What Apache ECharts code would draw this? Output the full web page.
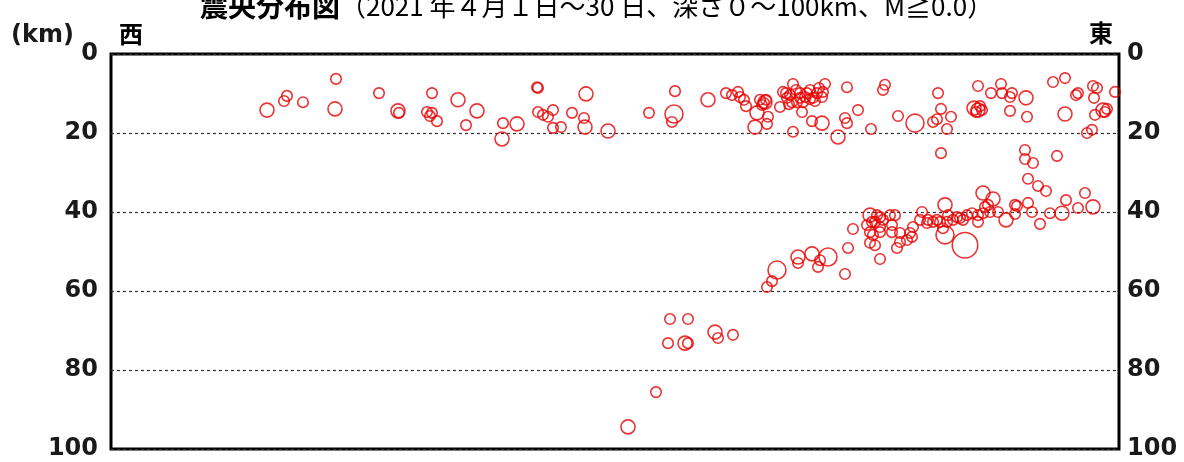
<!DOCTYPE html>
<html><head><meta charset="utf-8">
<script src="https://cdn.jsdelivr.net/npm/echarts@6/dist/echarts.min.js"></script>
<style>html,body{margin:0;padding:0;background:#fff}#c{width:1184px;height:462px}</style>
</head><body><div id="c"></div>
<script>
const titleMain = '震央分布図';
const titleSub = '（2021 年４月１日～30 日、深さ０～100km、M≧0.0）';
const unitLabel = '(km)';
const westLabel = '西';
const eastLabel = '東';
const depthTicks = [0, 20, 40, 60, 80, 100];

// horizontal position along the section (west -> east)
const distance = [
  156,176,173,192,225,224,268,287,288,321,316,321,326,319,347,366,355,391,392,406,
  426,427,427,432,442,437,442,450,461,475,473,474,497,538,564,563,561,597,
  615,621,627,629,633,635,649,653,655,651,654,646,657,656,644,669,
  672,676,679,681,682,686,689,692,696,699,702,706,711,712,714,675,685,694,704,708,678,689,699,691,701,711,682,727,
  736,747,734,736,760,774,772,787,804,827,830,822,826,836,840,830,867,863,867,869,865,871,880,890,891,899,901,915,899,916,
  914,914,922,942,954,967,965,954,946,982,986,983,1004,992,996,994,984,976,981,
  917,927,935,955,974,967,982,951,939,929,
  656,661,666,687,687,701,709,707,717,734,737,742,
  756,759,761,764,766,769,769,772,779,784,781,
  759,769,762,759,764,769,781,789,786,789,796,801,799,802,809,811,816,817,822,826,829,832,834,834,836,837,842,846,849,852,854,856,861,867,867,872,872,874,877,879,882,887,895,904,906,904,917,921,
  559,577,557,574,577,604,607,622,545,517
];
// depth (km)
const depth = [
  14.2,10.6,11.9,12.2,6.3,13.9,9.9,14.4,14.9,9.9,14.7,14.9,17.0,15.7,11.6,14.4,18.0,21.5,17.5,17.7,
  8.4,8.6,14.7,15.4,14.2,15.9,18.7,18.5,14.9,10.1,16.2,18.5,19.5,14.9,9.4,15.2,17.2,11.6,
  9.9,10.4,9.6,10.9,11.6,13.2,11.6,12.4,11.6,12.9,12.2,14.9,15.9,17.7,18.5,13.4,
  9.6,11.1,10.4,12.2,7.6,12.2,9.9,12.2,9.9,9.1,11.1,9.9,10.9,9.6,7.6,9.9,9.1,10.9,11.9,8.6,12.7,11.1,11.4,14.7,17.0,17.5,19.7,21.0,
  8.4,14.2,16.2,17.5,19.0,7.8,9.1,15.7,17.5,9.9,13.9,17.2,16.5,19.0,15.9,25.1,8.1,13.7,14.2,13.2,14.7,14.2,9.9,7.6,9.9,10.9,9.9,11.1,14.4,15.9,
  24.3,26.6,27.6,7.1,6.1,9.9,10.4,15.2,25.8,8.1,8.6,11.1,9.6,14.2,13.9,14.7,15.4,20.0,19.2,
  31.6,33.4,34.7,37.0,35.2,39.0,38.7,40.3,40.3,43.0,
  59.0,57.5,54.7,51.4,52.9,50.6,52.2,53.9,51.4,55.7,49.1,44.3,
  43.3,40.8,42.5,42.5,40.8,41.3,43.8,42.0,40.8,40.8,43.3,
  45.1,45.1,45.8,47.8,48.4,51.9,45.1,45.3,49.1,47.6,47.1,46.3,45.3,43.8,42.0,40.0,42.8,42.0,42.5,42.0,42.5,44.1,38.2,45.8,42.5,40.8,42.0,41.3,41.5,42.0,48.4,40.8,40.3,40.8,42.5,40.3,35.2,38.7,38.2,40.0,36.7,40.0,42.0,38.2,38.5,40.5,37.7,40.0,
  67.1,67.1,73.2,73.2,73.2,70.4,71.9,71.1,85.6,94.4
];
// magnitude
const magnitude = [
  1.2,0.5,0.5,0.5,0.5,1.2,0.5,1.2,0.5,0.5,0.5,0.5,0.5,0.5,1.2,1.2,0.5,1.2,0.5,1.2,
  0.5,0.5,0.5,0.5,0.5,0.5,0.5,0.5,0.5,1.2,0.5,1.2,1.2,0.5,0.5,2.0,0.5,1.2,
  0.5,0.5,0.5,0.5,0.5,0.5,0.5,0.5,0.5,0.5,1.2,1.2,0.5,0.5,1.2,0.5,
  0.5,0.5,0.5,0.5,0.5,0.5,0.5,0.5,0.5,0.5,0.5,0.5,0.5,0.5,0.5,0.5,0.5,0.5,0.5,0.5,0.5,0.5,0.5,0.5,0.5,1.2,0.5,1.2,
  0.5,0.5,0.5,0.5,0.5,0.5,0.5,0.5,2.0,0.5,0.5,0.5,0.5,0.5,0.5,0.5,0.5,1.2,1.2,0.5,0.5,0.5,0.5,0.5,0.5,0.5,0.5,1.2,0.5,0.5,
  0.5,0.5,0.5,0.5,0.5,0.5,0.5,1.2,0.5,0.5,0.5,0.5,0.5,1.2,0.5,0.5,0.5,0.5,0.5,
  0.5,0.5,0.5,0.5,0.5,0.5,1.2,1.2,0.5,0.5,
  0.5,0.5,2.0,1.2,0.5,1.2,0.5,0.5,2.0,0.5,0.5,0.5,
  0.5,1.2,0.5,0.5,0.5,0.5,0.5,0.5,0.5,0.5,0.5,
  0.5,0.5,0.5,0.5,0.5,0.5,0.5,0.5,0.5,0.5,0.5,0.5,0.5,0.5,0.5,0.5,0.5,0.5,0.5,0.5,0.5,0.5,1.2,2.0,0.5,0.5,0.5,0.5,0.5,0.5,3.5,0.5,0.5,0.5,0.5,0.5,1.2,0.5,0.5,0.5,1.2,0.5,1.2,0.5,0.5,0.5,0.5,0.5,
  0.5,0.5,0.5,1.2,0.5,1.2,0.5,0.5,0.5,1.2
];

const points = distance.map((d, i) => [d, depth[i], magnitude[i]]);

const chart = echarts.init(document.getElementById('c'), null, {renderer: 'canvas'});
const labelStyle = {
  fontFamily: 'DejaVu Sans', fontWeight: 'bold', fontSize: 24, color: '#1a1a1a'
};
const yBase = {
  type: 'value', inverse: true, min: depthTicks[0], max: depthTicks[depthTicks.length - 1], interval: 20,
  axisLine: {show: false}, axisTick: {show: false}
};
chart.setOption({
  animation: false,
  backgroundColor: '#fff',
  title: {
    text: '{a|' + titleMain + '}{b|' + titleSub + '}',
    left: 195, top: -13,
    textStyle: {
      rich: {
        a: {fontFamily: 'Noto Sans CJK JP', fontWeight: 'bold', fontSize: 28, color: '#000'},
        b: {fontFamily: 'Noto Sans CJK JP', fontWeight: 'normal', fontSize: 26, color: '#000'}
      }
    }
  },
  grid: {left: 111, right: 65, top: 54, bottom: 13, show: true, borderColor: '#000', borderWidth: 3, containLabel: false},
  xAxis: {type: 'value', min: 0, max: 1008, show: false},
  yAxis: [
    Object.assign({}, yBase, {
      position: 'left',
      axisLabel: Object.assign({margin: 13}, labelStyle),
      splitLine: {show: true, lineStyle: {color: '#333', width: 1.2, type: [3, 3]}}
    }),
    Object.assign({}, yBase, {
      position: 'right',
      axisLabel: Object.assign({margin: 8}, labelStyle),
      splitLine: {show: false}
    })
  ],
  graphic: [
    {type: 'text', left: 11, top: 24, style: {text: unitLabel, font: 'bold 24px "DejaVu Sans"', fill: '#1a1a1a'}},
    {type: 'text', left: 119, top: 22, style: {text: westLabel, font: 'bold 24px "Noto Sans CJK JP"', fill: '#000'}},
    {type: 'text', left: 1089, top: 21, style: {text: eastLabel, font: 'bold 24px "Noto Sans CJK JP"', fill: '#000'}}
  ],
  series: [{
    type: 'scatter',
    data: points,
    symbol: 'circle',
    symbolSize: v => 8 + 5 * v[2],
    itemStyle: {color: 'rgba(255,255,255,0)', borderColor: '#e60000', borderWidth: 1.6},
    clip: false
  }]
});
</script>
</body></html>
